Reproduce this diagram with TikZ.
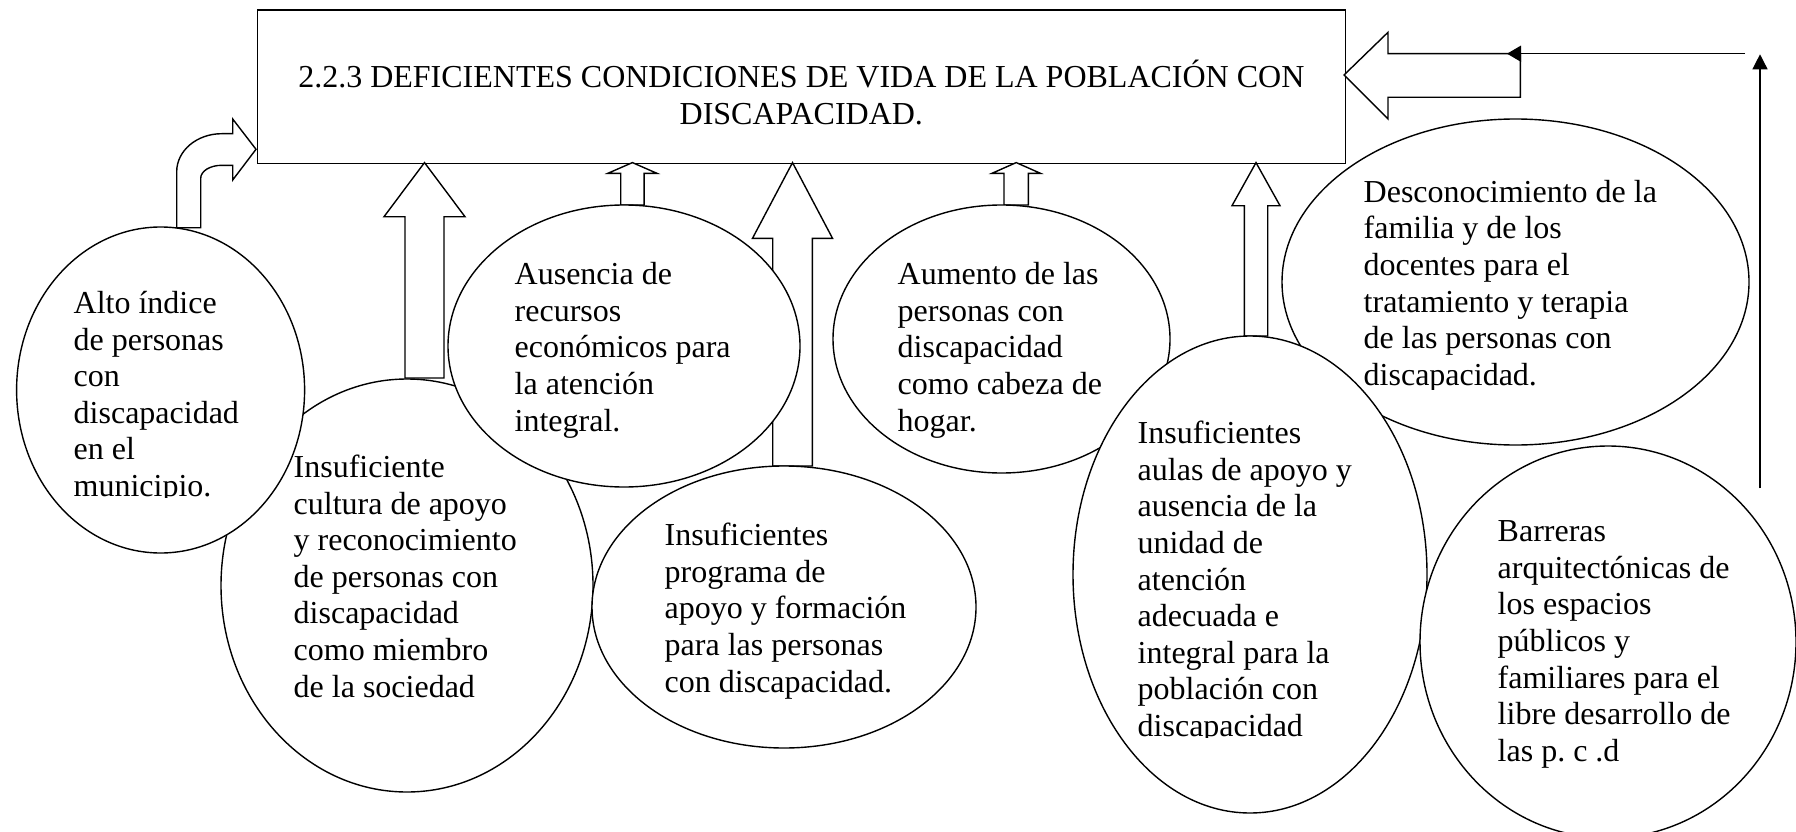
\documentclass[tikz,border=0pt]{standalone}
\usepackage{fontspec}
\setmainfont{Liberation Serif}
\usetikzlibrary{shapes.geometric,arrows.meta}
\newcommand\blockup[6]{\draw[blk] (#1-#2,#3) -- (#1-#2,#4) -- (#1-#5,#4) -- (#1,#6) -- (#1+#5,#4) -- (#1+#2,#4) -- (#1+#2,#3) -- cycle;}
\frenchspacing
\begin{document}
\begin{tikzpicture}[x=1pt,y=-1pt,line width=1.4pt,
  ell/.style={draw,fill=white,ellipse,inner sep=0pt},
  txt/.style={anchor=north west,align=left,inner sep=0pt,font=\fontsize{32}{36.6}\selectfont},
  blk/.style={draw,fill=white,line join=miter},
  thin/.style={line width=1.4pt}]
\useasboundingbox (0,0) rectangle (1796,832);
\clip (0,0) rectangle (1796,832);
% title box
\node[draw,anchor=north west,minimum width=1088.1pt,minimum height=153.1pt,inner sep=0pt,align=center,
  font=\fontsize{32}{36.6}\selectfont] (title) at (256.6,9.5)
  {\rule{0pt}{38.6pt}2.2.3 DEFICIENTES CONDICIONES DE VIDA DE LA POBLACIÓN CON\\DISCAPACIDAD.};
% bent arrow
\draw[blk] (176.7,227.7) -- (176.7,171.7) .. controls (176.7,150.7) and (196.8,133.7) .. (221.7,133.7)
  -- (232.7,133.7) -- (232.7,119) -- (256,149.3) -- (232.7,180) -- (232.7,165.3) -- (221.7,165.3)
  .. controls (210.1,165.3) and (200.7,171.1) .. (200.7,178.3) -- (200.7,227.7) -- cycle;
% up block arrows
\blockup{424.5}{19.5}{378}{216.7}{40.5}{162.6}
\blockup{632.4}{11.7}{205}{173.3}{24.5}{162.6}
\blockup{792.5}{19.8}{466}{238.3}{40}{162.6}
\blockup{1016.2}{12.2}{205}{173.3}{24.2}{162.6}
\blockup{1256}{11.7}{336}{205.7}{24}{162.6}
% ellipses and texts
\node[ell,minimum width=372pt,minimum height=413pt] (cultura) at (407,585.5) {};
\node[txt] (cultura-t) at (293,446.7) {\rule{0pt}{30pt}Insuficiente\\cultura de apoyo\\y reconocimiento\\de personas con\\discapacidad\\como miembro\\de la sociedad};
\node[ell,minimum width=288pt,minimum height=326pt] (alto) at (160.6,390) {};
\begin{scope}
\clip (0,0) rectangle (400,497);
\node[txt] (alto-t) at (73,282.7) {\rule{0pt}{30pt}Alto índice\\de personas\\con\\discapacidad\\en el\\municipio.};
\end{scope}
\node[ell,minimum width=352pt,minimum height=282pt] (ausencia) at (624,346) {};
\node[txt] (ausencia-t) at (514,254) {\rule{0pt}{30pt}Ausencia de\\recursos\\económicos para\\la atención\\integral.};
\node[ell,minimum width=384pt,minimum height=282pt] (programa) at (784,607) {};
\node[txt] (programa-t) at (664,515) {\rule{0pt}{30pt}Insuficientes\\programa de\\apoyo y formación\\para las personas\\con discapacidad.};
\node[ell,minimum width=337pt,minimum height=268pt] (aumento) at (1001.5,339) {};
\node[txt] (aumento-t) at (897,254) {\rule{0pt}{30pt}Aumento de las\\personas con\\discapacidad\\como cabeza de\\hogar.};
\node[ell,minimum width=467pt,minimum height=326pt] (descon) at (1515.5,282) {};
\begin{scope}
\clip (1000,0) rectangle (1796,389);
\node[txt] (descon-t) at (1363,171.5) {\rule{0pt}{30pt}Desconocimiento de la\\familia y de los\\docentes para el\\tratamiento y terapia\\de las personas con\\discapacidad.};
\end{scope}
\node[ell,minimum width=354pt,minimum height=477pt] (aulas) at (1250,574.5) {};
\begin{scope}
\clip (1000,0) rectangle (1796,737);
\node[txt] (aulas-t) at (1137,413) {\rule{0pt}{30pt}Insuficientes\\aulas de apoyo y\\ausencia de la\\unidad de\\atención\\adecuada e\\integral para la\\población con\\discapacidad};
\end{scope}
\node[ell,minimum width=376pt,minimum height=392pt] (barreras) at (1608,642) {};
\node[txt] (barreras-t) at (1497,511) {\rule{0pt}{30pt}Barreras\\arquitectónicas de\\los espacios\\públicos y\\familiares para el\\libre desarrollo de\\las p. c .d};
% right side feedback arrows
\draw[blk] (1344,75) -- (1388,32.3) -- (1388,53.7) -- (1520.3,53.7) -- (1520.3,97.3) -- (1388,97.3) -- (1388,119) -- cycle;
\coordinate (hstart) at (1745,53.7);
\coordinate (hend) at (1507,53.7);
\draw[thin,-{Triangle[length=14pt,width=16pt]}] (hstart) -- (hend);
\coordinate (vstart) at (1760,488.3);
\coordinate (vend) at (1760,54.3);
\draw[thin,-{Triangle[length=15pt,width=15pt]}] (vstart) -- (vend);
\end{tikzpicture}
\end{document}
